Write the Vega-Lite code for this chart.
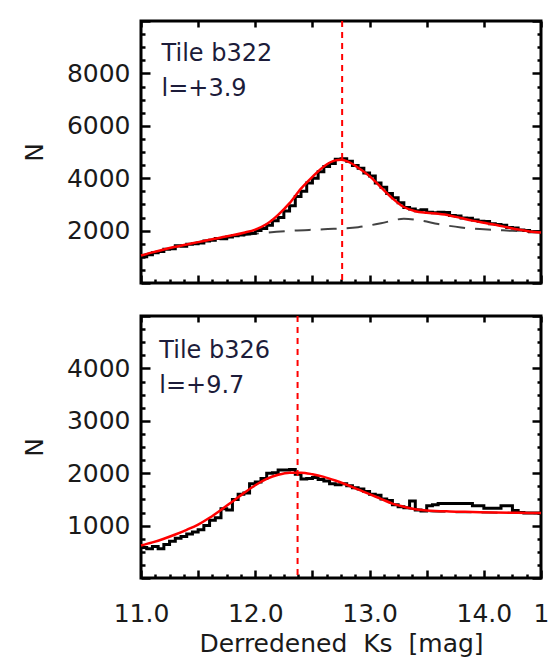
{
  "$schema": "https://vega.github.io/schema/vega-lite/v6.json",
  "background": "white",
  "padding": {"left": 20, "top": 18, "right": 0, "bottom": 0},
  "spacing": 27,
  "config": {
    "view": {"stroke": "black", "strokeWidth": 3},
    "axis": {
      "labelFont": "DejaVu Sans", "labelFontSize": 25, "labelColor": "#1a1a1a",
      "titleFont": "DejaVu Sans", "titleFontSize": 25, "titleFontWeight": "normal", "titleColor": "#1a1a1a",
      "domain": false, "grid": false, "tickColor": "black", "tickWidth": 2.5,
      "labelFlush": false, "labelOverlap": false
    }
  },
  "datasets": {
    "d": [
      {"tile":"b322","series":"label","label":"Tile b322\nl=+3.9"},
      {"tile":"b322","series":"peak","mag":12.76},
      {"tile":"b322","series":"hist","mag":11.00,"n":1000},
      {"tile":"b322","series":"hist","mag":11.05,"n":1080},
      {"tile":"b322","series":"hist","mag":11.10,"n":1150},
      {"tile":"b322","series":"hist","mag":11.15,"n":1200},
      {"tile":"b322","series":"hist","mag":11.20,"n":1290},
      {"tile":"b322","series":"hist","mag":11.25,"n":1310},
      {"tile":"b322","series":"hist","mag":11.30,"n":1420},
      {"tile":"b322","series":"hist","mag":11.35,"n":1400},
      {"tile":"b322","series":"hist","mag":11.40,"n":1480},
      {"tile":"b322","series":"hist","mag":11.45,"n":1500},
      {"tile":"b322","series":"hist","mag":11.50,"n":1530},
      {"tile":"b322","series":"hist","mag":11.55,"n":1600},
      {"tile":"b322","series":"hist","mag":11.60,"n":1630},
      {"tile":"b322","series":"hist","mag":11.65,"n":1700},
      {"tile":"b322","series":"hist","mag":11.70,"n":1690},
      {"tile":"b322","series":"hist","mag":11.75,"n":1760},
      {"tile":"b322","series":"hist","mag":11.80,"n":1800},
      {"tile":"b322","series":"hist","mag":11.85,"n":1830},
      {"tile":"b322","series":"hist","mag":11.90,"n":1880},
      {"tile":"b322","series":"hist","mag":11.95,"n":1900},
      {"tile":"b322","series":"hist","mag":12.00,"n":2000},
      {"tile":"b322","series":"hist","mag":12.05,"n":2080},
      {"tile":"b322","series":"hist","mag":12.10,"n":2200},
      {"tile":"b322","series":"hist","mag":12.15,"n":2380},
      {"tile":"b322","series":"hist","mag":12.20,"n":2500},
      {"tile":"b322","series":"hist","mag":12.25,"n":2750},
      {"tile":"b322","series":"hist","mag":12.30,"n":2950},
      {"tile":"b322","series":"hist","mag":12.35,"n":3300},
      {"tile":"b322","series":"hist","mag":12.40,"n":3500},
      {"tile":"b322","series":"hist","mag":12.45,"n":3820},
      {"tile":"b322","series":"hist","mag":12.50,"n":4000},
      {"tile":"b322","series":"hist","mag":12.55,"n":4250},
      {"tile":"b322","series":"hist","mag":12.60,"n":4450},
      {"tile":"b322","series":"hist","mag":12.65,"n":4560},
      {"tile":"b322","series":"hist","mag":12.70,"n":4720},
      {"tile":"b322","series":"hist","mag":12.75,"n":4740},
      {"tile":"b322","series":"hist","mag":12.80,"n":4650},
      {"tile":"b322","series":"hist","mag":12.85,"n":4480},
      {"tile":"b322","series":"hist","mag":12.90,"n":4380},
      {"tile":"b322","series":"hist","mag":12.95,"n":4200},
      {"tile":"b322","series":"hist","mag":13.00,"n":4080},
      {"tile":"b322","series":"hist","mag":13.05,"n":3820},
      {"tile":"b322","series":"hist","mag":13.10,"n":3650},
      {"tile":"b322","series":"hist","mag":13.15,"n":3420},
      {"tile":"b322","series":"hist","mag":13.20,"n":3250},
      {"tile":"b322","series":"hist","mag":13.25,"n":3060},
      {"tile":"b322","series":"hist","mag":13.30,"n":2880},
      {"tile":"b322","series":"hist","mag":13.35,"n":2820},
      {"tile":"b322","series":"hist","mag":13.40,"n":2760},
      {"tile":"b322","series":"hist","mag":13.45,"n":2800},
      {"tile":"b322","series":"hist","mag":13.50,"n":2700},
      {"tile":"b322","series":"hist","mag":13.55,"n":2680},
      {"tile":"b322","series":"hist","mag":13.60,"n":2700},
      {"tile":"b322","series":"hist","mag":13.65,"n":2690},
      {"tile":"b322","series":"hist","mag":13.70,"n":2580},
      {"tile":"b322","series":"hist","mag":13.75,"n":2560},
      {"tile":"b322","series":"hist","mag":13.80,"n":2480},
      {"tile":"b322","series":"hist","mag":13.85,"n":2470},
      {"tile":"b322","series":"hist","mag":13.90,"n":2400},
      {"tile":"b322","series":"hist","mag":13.95,"n":2360},
      {"tile":"b322","series":"hist","mag":14.00,"n":2350},
      {"tile":"b322","series":"hist","mag":14.05,"n":2260},
      {"tile":"b322","series":"hist","mag":14.10,"n":2230},
      {"tile":"b322","series":"hist","mag":14.15,"n":2200},
      {"tile":"b322","series":"hist","mag":14.20,"n":2120},
      {"tile":"b322","series":"hist","mag":14.25,"n":2100},
      {"tile":"b322","series":"hist","mag":14.30,"n":2020},
      {"tile":"b322","series":"hist","mag":14.35,"n":2000},
      {"tile":"b322","series":"hist","mag":14.40,"n":1960},
      {"tile":"b322","series":"hist","mag":14.45,"n":1960},
      {"tile":"b322","series":"hist","mag":14.50,"n":1960},
      {"tile":"b322","series":"fit","mag":11.0,"n":1050},
      {"tile":"b322","series":"fit","mag":11.1,"n":1170},
      {"tile":"b322","series":"fit","mag":11.2,"n":1280},
      {"tile":"b322","series":"fit","mag":11.3,"n":1380},
      {"tile":"b322","series":"fit","mag":11.4,"n":1470},
      {"tile":"b322","series":"fit","mag":11.5,"n":1560},
      {"tile":"b322","series":"fit","mag":11.6,"n":1650},
      {"tile":"b322","series":"fit","mag":11.7,"n":1740},
      {"tile":"b322","series":"fit","mag":11.8,"n":1820},
      {"tile":"b322","series":"fit","mag":11.9,"n":1920},
      {"tile":"b322","series":"fit","mag":12.0,"n":2040},
      {"tile":"b322","series":"fit","mag":12.1,"n":2250},
      {"tile":"b322","series":"fit","mag":12.2,"n":2600},
      {"tile":"b322","series":"fit","mag":12.3,"n":3050},
      {"tile":"b322","series":"fit","mag":12.4,"n":3600},
      {"tile":"b322","series":"fit","mag":12.5,"n":4050},
      {"tile":"b322","series":"fit","mag":12.6,"n":4450},
      {"tile":"b322","series":"fit","mag":12.7,"n":4680},
      {"tile":"b322","series":"fit","mag":12.75,"n":4700},
      {"tile":"b322","series":"fit","mag":12.8,"n":4650},
      {"tile":"b322","series":"fit","mag":12.9,"n":4400},
      {"tile":"b322","series":"fit","mag":13.0,"n":4080},
      {"tile":"b322","series":"fit","mag":13.1,"n":3650},
      {"tile":"b322","series":"fit","mag":13.2,"n":3230},
      {"tile":"b322","series":"fit","mag":13.3,"n":2900},
      {"tile":"b322","series":"fit","mag":13.4,"n":2740},
      {"tile":"b322","series":"fit","mag":13.5,"n":2680},
      {"tile":"b322","series":"fit","mag":13.6,"n":2640},
      {"tile":"b322","series":"fit","mag":13.7,"n":2580},
      {"tile":"b322","series":"fit","mag":13.8,"n":2480},
      {"tile":"b322","series":"fit","mag":13.9,"n":2380},
      {"tile":"b322","series":"fit","mag":14.0,"n":2300},
      {"tile":"b322","series":"fit","mag":14.1,"n":2220},
      {"tile":"b322","series":"fit","mag":14.2,"n":2130},
      {"tile":"b322","series":"fit","mag":14.3,"n":2040},
      {"tile":"b322","series":"fit","mag":14.4,"n":1970},
      {"tile":"b322","series":"fit","mag":14.5,"n":1930},
      {"tile":"b322","series":"bg","mag":11.0,"n":1050},
      {"tile":"b322","series":"bg","mag":11.5,"n":1560},
      {"tile":"b322","series":"bg","mag":12.0,"n":1880},
      {"tile":"b322","series":"bg","mag":12.3,"n":1990},
      {"tile":"b322","series":"bg","mag":12.6,"n":2050},
      {"tile":"b322","series":"bg","mag":12.9,"n":2130},
      {"tile":"b322","series":"bg","mag":13.1,"n":2280},
      {"tile":"b322","series":"bg","mag":13.3,"n":2450},
      {"tile":"b322","series":"bg","mag":13.45,"n":2380},
      {"tile":"b322","series":"bg","mag":13.6,"n":2250},
      {"tile":"b322","series":"bg","mag":13.8,"n":2120},
      {"tile":"b322","series":"bg","mag":14.0,"n":2050},
      {"tile":"b322","series":"bg","mag":14.25,"n":1990},
      {"tile":"b322","series":"bg","mag":14.5,"n":1930},
      {"tile":"b326","series":"label","label":"Tile b326\nl=+9.7"},
      {"tile":"b326","series":"peak","mag":12.37},
      {"tile":"b326","series":"hist","mag":11.00,"n":580},
      {"tile":"b326","series":"hist","mag":11.05,"n":560},
      {"tile":"b326","series":"hist","mag":11.10,"n":600},
      {"tile":"b326","series":"hist","mag":11.15,"n":560},
      {"tile":"b326","series":"hist","mag":11.20,"n":640},
      {"tile":"b326","series":"hist","mag":11.25,"n":700},
      {"tile":"b326","series":"hist","mag":11.30,"n":760},
      {"tile":"b326","series":"hist","mag":11.35,"n":790},
      {"tile":"b326","series":"hist","mag":11.40,"n":840},
      {"tile":"b326","series":"hist","mag":11.45,"n":880},
      {"tile":"b326","series":"hist","mag":11.50,"n":920},
      {"tile":"b326","series":"hist","mag":11.55,"n":1000},
      {"tile":"b326","series":"hist","mag":11.60,"n":1100},
      {"tile":"b326","series":"hist","mag":11.65,"n":1150},
      {"tile":"b326","series":"hist","mag":11.70,"n":1320},
      {"tile":"b326","series":"hist","mag":11.75,"n":1300},
      {"tile":"b326","series":"hist","mag":11.80,"n":1500},
      {"tile":"b326","series":"hist","mag":11.85,"n":1600},
      {"tile":"b326","series":"hist","mag":11.90,"n":1620},
      {"tile":"b326","series":"hist","mag":11.95,"n":1800},
      {"tile":"b326","series":"hist","mag":12.00,"n":1830},
      {"tile":"b326","series":"hist","mag":12.05,"n":1900},
      {"tile":"b326","series":"hist","mag":12.10,"n":2000},
      {"tile":"b326","series":"hist","mag":12.15,"n":2010},
      {"tile":"b326","series":"hist","mag":12.20,"n":2060},
      {"tile":"b326","series":"hist","mag":12.25,"n":2060},
      {"tile":"b326","series":"hist","mag":12.30,"n":2070},
      {"tile":"b326","series":"hist","mag":12.35,"n":1980},
      {"tile":"b326","series":"hist","mag":12.40,"n":1890},
      {"tile":"b326","series":"hist","mag":12.45,"n":1900},
      {"tile":"b326","series":"hist","mag":12.50,"n":1920},
      {"tile":"b326","series":"hist","mag":12.55,"n":1880},
      {"tile":"b326","series":"hist","mag":12.60,"n":1850},
      {"tile":"b326","series":"hist","mag":12.65,"n":1800},
      {"tile":"b326","series":"hist","mag":12.70,"n":1780},
      {"tile":"b326","series":"hist","mag":12.75,"n":1800},
      {"tile":"b326","series":"hist","mag":12.80,"n":1760},
      {"tile":"b326","series":"hist","mag":12.85,"n":1720},
      {"tile":"b326","series":"hist","mag":12.90,"n":1700},
      {"tile":"b326","series":"hist","mag":12.95,"n":1650},
      {"tile":"b326","series":"hist","mag":13.00,"n":1600},
      {"tile":"b326","series":"hist","mag":13.05,"n":1580},
      {"tile":"b326","series":"hist","mag":13.10,"n":1510},
      {"tile":"b326","series":"hist","mag":13.15,"n":1480},
      {"tile":"b326","series":"hist","mag":13.20,"n":1400},
      {"tile":"b326","series":"hist","mag":13.25,"n":1360},
      {"tile":"b326","series":"hist","mag":13.30,"n":1340},
      {"tile":"b326","series":"hist","mag":13.35,"n":1470},
      {"tile":"b326","series":"hist","mag":13.40,"n":1300},
      {"tile":"b326","series":"hist","mag":13.45,"n":1280},
      {"tile":"b326","series":"hist","mag":13.50,"n":1380},
      {"tile":"b326","series":"hist","mag":13.55,"n":1400},
      {"tile":"b326","series":"hist","mag":13.60,"n":1420},
      {"tile":"b326","series":"hist","mag":13.65,"n":1420},
      {"tile":"b326","series":"hist","mag":13.70,"n":1420},
      {"tile":"b326","series":"hist","mag":13.75,"n":1420},
      {"tile":"b326","series":"hist","mag":13.80,"n":1420},
      {"tile":"b326","series":"hist","mag":13.85,"n":1420},
      {"tile":"b326","series":"hist","mag":13.90,"n":1380},
      {"tile":"b326","series":"hist","mag":13.95,"n":1380},
      {"tile":"b326","series":"hist","mag":14.00,"n":1330},
      {"tile":"b326","series":"hist","mag":14.05,"n":1330},
      {"tile":"b326","series":"hist","mag":14.10,"n":1330},
      {"tile":"b326","series":"hist","mag":14.15,"n":1380},
      {"tile":"b326","series":"hist","mag":14.20,"n":1380},
      {"tile":"b326","series":"hist","mag":14.25,"n":1290},
      {"tile":"b326","series":"hist","mag":14.30,"n":1250},
      {"tile":"b326","series":"hist","mag":14.35,"n":1240},
      {"tile":"b326","series":"hist","mag":14.40,"n":1240},
      {"tile":"b326","series":"hist","mag":14.45,"n":1240},
      {"tile":"b326","series":"hist","mag":14.50,"n":1240},
      {"tile":"b326","series":"fit","mag":11.0,"n":620},
      {"tile":"b326","series":"fit","mag":11.1,"n":680},
      {"tile":"b326","series":"fit","mag":11.2,"n":750},
      {"tile":"b326","series":"fit","mag":11.3,"n":830},
      {"tile":"b326","series":"fit","mag":11.4,"n":920},
      {"tile":"b326","series":"fit","mag":11.5,"n":1020},
      {"tile":"b326","series":"fit","mag":11.6,"n":1150},
      {"tile":"b326","series":"fit","mag":11.7,"n":1300},
      {"tile":"b326","series":"fit","mag":11.8,"n":1460},
      {"tile":"b326","series":"fit","mag":11.9,"n":1620},
      {"tile":"b326","series":"fit","mag":12.0,"n":1770},
      {"tile":"b326","series":"fit","mag":12.1,"n":1890},
      {"tile":"b326","series":"fit","mag":12.2,"n":1970},
      {"tile":"b326","series":"fit","mag":12.3,"n":2010},
      {"tile":"b326","series":"fit","mag":12.4,"n":2010},
      {"tile":"b326","series":"fit","mag":12.5,"n":1980},
      {"tile":"b326","series":"fit","mag":12.6,"n":1930},
      {"tile":"b326","series":"fit","mag":12.7,"n":1860},
      {"tile":"b326","series":"fit","mag":12.8,"n":1780},
      {"tile":"b326","series":"fit","mag":12.9,"n":1690},
      {"tile":"b326","series":"fit","mag":13.0,"n":1600},
      {"tile":"b326","series":"fit","mag":13.1,"n":1510},
      {"tile":"b326","series":"fit","mag":13.2,"n":1420},
      {"tile":"b326","series":"fit","mag":13.3,"n":1360},
      {"tile":"b326","series":"fit","mag":13.4,"n":1310},
      {"tile":"b326","series":"fit","mag":13.5,"n":1290},
      {"tile":"b326","series":"fit","mag":13.7,"n":1270},
      {"tile":"b326","series":"fit","mag":13.9,"n":1260},
      {"tile":"b326","series":"fit","mag":14.1,"n":1250},
      {"tile":"b326","series":"fit","mag":14.3,"n":1245},
      {"tile":"b326","series":"fit","mag":14.5,"n":1240},
      {"tile":"b326","series":"bg","mag":13.3,"n":1350},
      {"tile":"b326","series":"bg","mag":13.5,"n":1280},
      {"tile":"b326","series":"bg","mag":13.7,"n":1260},
      {"tile":"b326","series":"bg","mag":14.0,"n":1250},
      {"tile":"b326","series":"bg","mag":14.5,"n":1235}
    ]
  },
  "vconcat": [
    {
      "width": 400, "height": 262,
      "data": {"name": "d"},
      "transform": [{"filter": "datum.tile == 'b322'"}],
      "resolve": {"axis": {"x": "independent", "y": "independent"}},
      "layer": [
        {
          "transform": [{"filter": "datum.series == 'bg'"}],
          "mark": {"type": "line", "color": "#222222", "strokeWidth": 2, "strokeDash": [16, 10], "interpolate": "monotone", "opacity": 0.85},
          "encoding": {
            "x": {"field": "mag", "type": "quantitative", "scale": {"domain": [11, 14.5], "nice": false, "zero": false},
              "axis": {"orient": "bottom", "labels": false, "title": null,
                "values": [11, 11.125, 11.25, 11.375, 11.5, 11.625, 11.75, 11.875, 12, 12.125, 12.25, 12.375, 12.5, 12.625, 12.75, 12.875, 13, 13.125, 13.25, 13.375, 13.5, 13.625, 13.75, 13.875, 14, 14.125, 14.25, 14.375, 14.5],
                "tickSize": {"condition": {"test": "datum.value * 2 == round(datum.value * 2)", "value": -8}, "value": -4}}},
            "y": {"field": "n", "type": "quantitative", "scale": {"domain": [0, 10000], "nice": false},
              "axis": {"orient": "left", "labels": false, "title": null,
                "values": [0, 500, 1000, 1500, 2000, 2500, 3000, 3500, 4000, 4500, 5000, 5500, 6000, 6500, 7000, 7500, 8000, 8500, 9000, 9500, 10000],
                "tickSize": {"condition": {"test": "datum.value % 2000 == 0", "value": -9}, "value": -4}}}
          }
        },
        {
          "transform": [{"filter": "datum.series == 'hist'"}],
          "mark": {"type": "line", "color": "black", "strokeWidth": 3, "interpolate": "step-after"},
          "encoding": {
            "x": {"field": "mag", "type": "quantitative", "axis": {"orient": "bottom", "labels": false, "ticks": false, "title": null}},
            "y": {"field": "n", "type": "quantitative",
              "axis": {"orient": "left", "ticks": false, "values": [2000, 4000, 6000, 8000], "format": "d", "labelPadding": 11, "title": "N", "titlePadding": 19}}
          }
        },
        {
          "transform": [{"filter": "datum.series == 'fit'"}],
          "mark": {"type": "line", "color": "#ff0000", "strokeWidth": 2.5, "interpolate": "monotone"},
          "encoding": {
            "x": {"field": "mag", "type": "quantitative",
              "axis": {"orient": "top", "labels": false, "title": null, "values": [11, 11.5, 12, 12.5, 13, 13.5, 14, 14.5], "tickSize": -6}},
            "y": {"field": "n", "type": "quantitative",
              "axis": {"orient": "right", "labels": false, "title": null,
                "values": [0, 500, 1000, 1500, 2000, 2500, 3000, 3500, 4000, 4500, 5000, 5500, 6000, 6500, 7000, 7500, 8000, 8500, 9000, 9500, 10000],
                "tickSize": {"condition": {"test": "datum.value % 2000 == 0", "value": -9}, "value": -4}}}
          }
        },
        {
          "transform": [{"filter": "datum.series == 'peak'"}],
          "mark": {"type": "rule", "color": "#ff0000", "strokeWidth": 2, "strokeDash": [6, 5]},
          "encoding": {"x": {"field": "mag", "type": "quantitative", "axis": null}}
        },
        {
          "transform": [{"filter": "datum.series == 'label'"}],
          "mark": {"type": "text", "align": "left", "baseline": "alphabetic", "font": "DejaVu Sans", "fontSize": 24, "color": "#1c1c3a", "lineBreak": "\n", "lineHeight": 35},
          "encoding": {
            "x": {"datum": 11.18, "type": "quantitative", "axis": null},
            "y": {"datum": 8470, "type": "quantitative", "axis": null},
            "text": {"field": "label"}
          }
        }
      ]
    },
    {
      "width": 400, "height": 262,
      "data": {"name": "d"},
      "transform": [{"filter": "datum.tile == 'b326'"}],
      "resolve": {"axis": {"x": "independent", "y": "independent"}},
      "layer": [
        {
          "transform": [{"filter": "datum.series == 'bg'"}],
          "mark": {"type": "line", "color": "#222222", "strokeWidth": 2, "strokeDash": [16, 10], "interpolate": "monotone", "opacity": 0.85},
          "encoding": {
            "x": {"field": "mag", "type": "quantitative", "scale": {"domain": [11, 14.5], "nice": false, "zero": false},
              "axis": {"orient": "bottom", "labels": false, "title": null,
                "values": [11, 11.125, 11.25, 11.375, 11.5, 11.625, 11.75, 11.875, 12, 12.125, 12.25, 12.375, 12.5, 12.625, 12.75, 12.875, 13, 13.125, 13.25, 13.375, 13.5, 13.625, 13.75, 13.875, 14, 14.125, 14.25, 14.375, 14.5],
                "tickSize": {"condition": {"test": "datum.value * 2 == round(datum.value * 2)", "value": -8}, "value": -4}}},
            "y": {"field": "n", "type": "quantitative", "scale": {"domain": [0, 5000], "nice": false},
              "axis": {"orient": "left", "labels": false, "title": null,
                "values": [0, 250, 500, 750, 1000, 1250, 1500, 1750, 2000, 2250, 2500, 2750, 3000, 3250, 3500, 3750, 4000, 4250, 4500, 4750, 5000],
                "tickSize": {"condition": {"test": "datum.value % 1000 == 0", "value": -9}, "value": -4}}}
          }
        },
        {
          "transform": [{"filter": "datum.series == 'hist'"}],
          "mark": {"type": "line", "color": "black", "strokeWidth": 3, "interpolate": "step-after"},
          "encoding": {
            "x": {"field": "mag", "type": "quantitative",
              "axis": {"orient": "bottom", "ticks": false, "values": [11, 12, 13, 14, 14.5],
                "labelExpr": "datum.value == 14.5 ? '1' : format(datum.value, '.1f')", "labelPadding": 23,
                "title": "Derredened\u00a0 Ks\u00a0 [mag]", "titlePadding": 5}},
            "y": {"field": "n", "type": "quantitative",
              "axis": {"orient": "left", "ticks": false, "values": [1000, 2000, 3000, 4000], "format": "d", "labelPadding": 11, "title": "N", "titlePadding": 19}}
          }
        },
        {
          "transform": [{"filter": "datum.series == 'fit'"}],
          "mark": {"type": "line", "color": "#ff0000", "strokeWidth": 2.5, "interpolate": "monotone"},
          "encoding": {
            "x": {"field": "mag", "type": "quantitative",
              "axis": {"orient": "top", "labels": false, "title": null, "values": [11, 11.5, 12, 12.5, 13, 13.5, 14, 14.5], "tickSize": -6}},
            "y": {"field": "n", "type": "quantitative",
              "axis": {"orient": "right", "labels": false, "title": null,
                "values": [0, 250, 500, 750, 1000, 1250, 1500, 1750, 2000, 2250, 2500, 2750, 3000, 3250, 3500, 3750, 4000, 4250, 4500, 4750, 5000],
                "tickSize": {"condition": {"test": "datum.value % 1000 == 0", "value": -9}, "value": -4}}}
          }
        },
        {
          "transform": [{"filter": "datum.series == 'peak'"}],
          "mark": {"type": "rule", "color": "#ff0000", "strokeWidth": 2, "strokeDash": [6, 5]},
          "encoding": {"x": {"field": "mag", "type": "quantitative", "axis": null}}
        },
        {
          "transform": [{"filter": "datum.series == 'label'"}],
          "mark": {"type": "text", "align": "left", "baseline": "alphabetic", "font": "DejaVu Sans", "fontSize": 24, "color": "#1c1c3a", "lineBreak": "\n", "lineHeight": 35},
          "encoding": {
            "x": {"datum": 11.16, "type": "quantitative", "axis": null},
            "y": {"datum": 4200, "type": "quantitative", "axis": null},
            "text": {"field": "label"}
          }
        }
      ]
    }
  ]
}
